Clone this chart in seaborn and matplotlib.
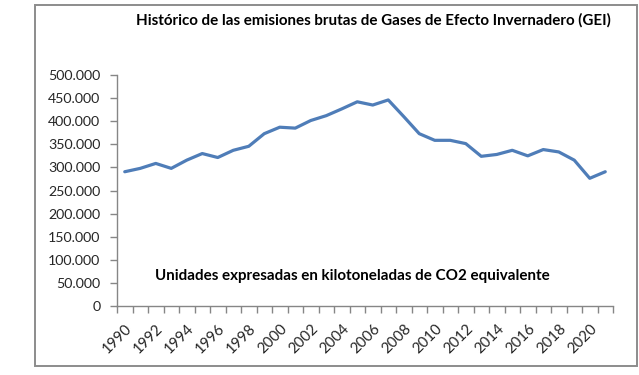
import numpy as np
import pandas as pd
import matplotlib
matplotlib.use("Agg")
import matplotlib.pyplot as plt
from matplotlib.ticker import FuncFormatter, FixedLocator
from matplotlib.patches import Rectangle
import seaborn as sns

# ========== datos ==========
years = list(range(1990, 2022))
emisiones = [290600, 297900, 308600, 297900, 315700, 330000, 321400, 337000,
             345700, 373000, 387000, 385000, 401500, 412000, 426600, 442000,
             435000, 446000, 410000, 373000, 358600, 358600, 351500, 324000,
             328000, 337000, 325000, 338600, 333500, 315700, 276400, 290600]
titulo = "Histórico de las emisiones brutas de Gases de Efecto Invernadero (GEI)"
nota = "Unidades expresadas en kilotoneladas de CO2 equivalente"

df = pd.DataFrame({"anio": years, "emisiones": emisiones})

sns.set_style("white")
plt.rcParams["font.family"] = ["Lato", "DejaVu Sans"]

W, H = 639, 375
fig = plt.figure(figsize=(W / 100, H / 100), dpi=100)
ax = fig.add_axes([117 / W, 1 - 306 / H, (613 - 117) / W, (306 - 75) / H])

sns.lineplot(data=df, x="anio", y="emisiones", ax=ax, color="#4F7DB8",
             linewidth=2.3, solid_joinstyle="round")

ax.set_xlim(years[0] - 0.5, years[-1] + 0.5)
ax.set_ylim(0, 500000)
ax.yaxis.set_major_locator(FixedLocator(np.arange(0, 500001, 50000)))
ax.yaxis.set_major_formatter(FuncFormatter(lambda v, p: f"{v:,.0f}".replace(",", ".")))

# etiquetas cada dos años, marcas entre categorías
ax.xaxis.set_major_locator(FixedLocator(years[::2]))
ax.xaxis.set_minor_locator(FixedLocator(np.arange(years[0] - 0.5, years[-1] + 1, 1)))
ax.tick_params(axis="x", which="major", bottom=True, length=0, pad=11,
               labelsize=10.8, labelcolor="#262626")
ax.tick_params(axis="x", which="minor", bottom=True, length=5, width=1,
               color="#868686", direction="out")
ax.tick_params(axis="y", left=True, length=5, width=1, color="#868686", direction="out",
               pad=7, labelsize=10.2, labelcolor="#262626")
for lab in ax.get_xticklabels():
    lab.set_rotation(45)
    lab.set_ha("right")
    lab.set_va("top")
    lab.set_rotation_mode("anchor")

ax.set_xlabel("")
ax.set_ylabel("")
for s in ["top", "right"]:
    ax.spines[s].set_visible(False)
for s in ["left", "bottom"]:
    ax.spines[s].set_color("#868686")
    ax.spines[s].set_linewidth(1)

fig.text(136 / W, 1 - 25 / H, titulo, ha="left", va="baseline",
         fontsize=10.9, fontweight="bold", color="black")
fig.text(155 / W, 1 - 280 / H, nota, ha="left", va="baseline",
         fontsize=10.9, fontweight="bold", color="black")

fig.patches.append(Rectangle((35 / W, 1 - 366 / H), (637 - 35) / W, (366 - 5) / H,
                             transform=fig.transFigure, fill=False,
                             edgecolor="#8c8c8c", linewidth=1.4))

fig.savefig("out.png", dpi=100)
